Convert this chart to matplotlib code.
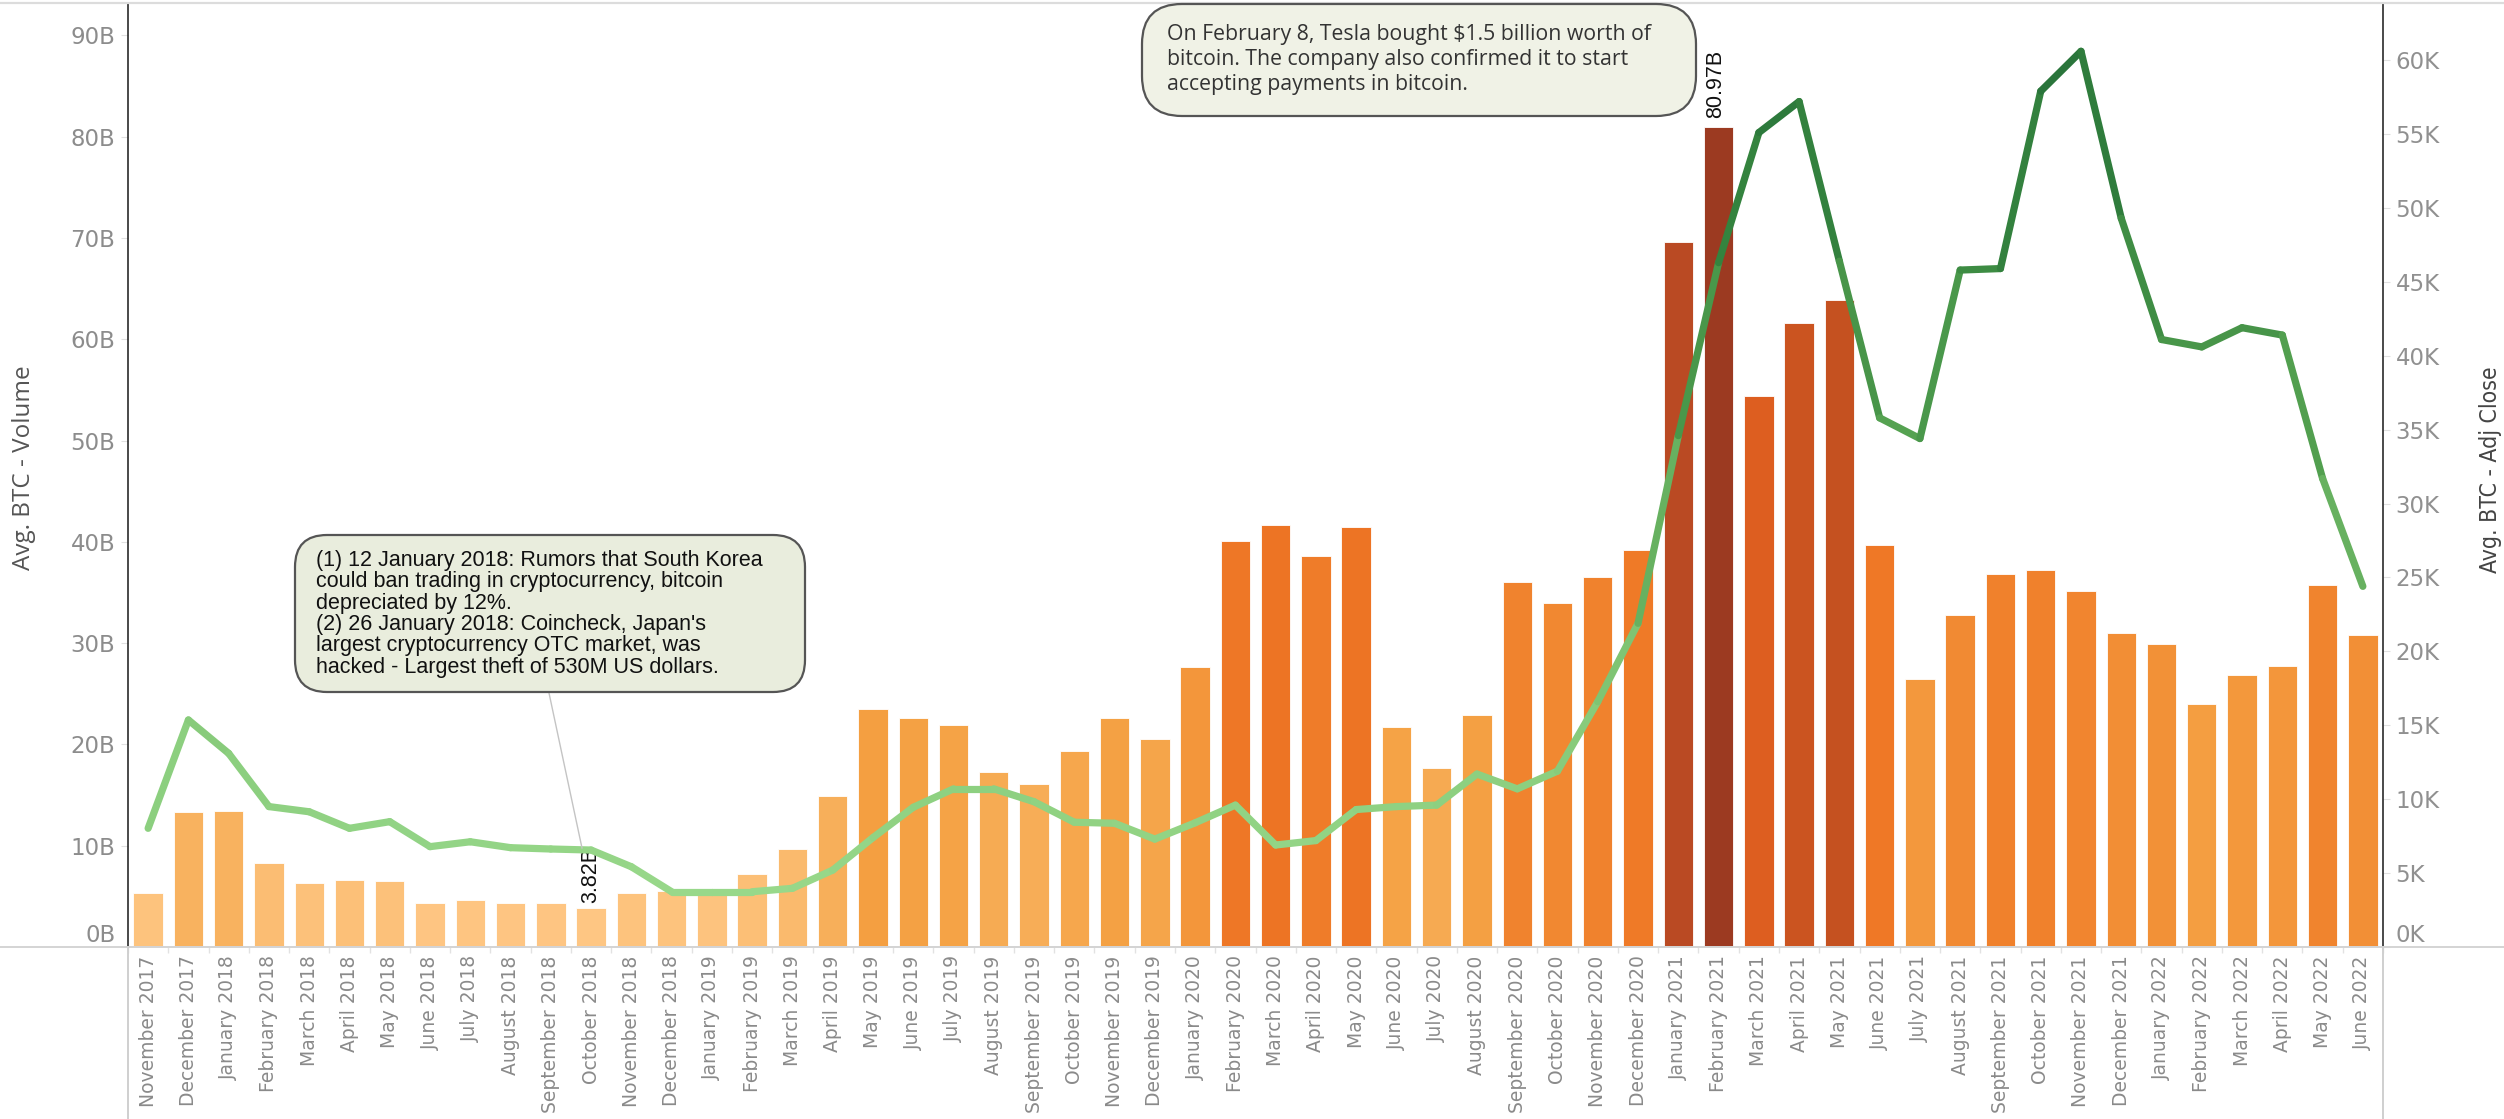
import numpy as np
import matplotlib
matplotlib.use("Agg")
import matplotlib.pyplot as plt
from matplotlib.collections import LineCollection
from matplotlib.colors import LinearSegmentedColormap, Normalize
from matplotlib.patches import FancyBboxPatch
from matplotlib.lines import Line2D
from matplotlib.transforms import IdentityTransform
import matplotlib.ticker as mticker

# ---------------- data ----------------
months = [
    "November 2017", "December 2017",
    "January 2018", "February 2018", "March 2018", "April 2018", "May 2018", "June 2018",
    "July 2018", "August 2018", "September 2018", "October 2018", "November 2018", "December 2018",
    "January 2019", "February 2019", "March 2019", "April 2019", "May 2019", "June 2019",
    "July 2019", "August 2019", "September 2019", "October 2019", "November 2019", "December 2019",
    "January 2020", "February 2020", "March 2020", "April 2020", "May 2020", "June 2020",
    "July 2020", "August 2020", "September 2020", "October 2020", "November 2020", "December 2020",
    "January 2021", "February 2021", "March 2021", "April 2021", "May 2021", "June 2021",
    "July 2021", "August 2021", "September 2021", "October 2021", "November 2021", "December 2021",
    "January 2022", "February 2022", "March 2022", "April 2022", "May 2022", "June 2022",
]

# Avg. BTC - Volume (billions)
volume_b = [
    5.36, 13.3,
    13.4, 8.26, 6.35, 6.6, 6.5, 4.37, 4.64, 4.37, 4.37, 3.82, 5.36, 5.5,
    5.3, 7.2, 9.7, 14.9, 23.5, 22.6, 21.9, 17.3, 16.1, 19.3, 22.6, 20.5,
    27.6, 40.1, 41.7, 38.6, 41.5, 21.7, 17.7, 22.9, 36.0, 34.0, 36.5, 39.2,
    69.6, 80.97, 54.4, 61.6, 63.9, 39.7, 26.5, 32.8, 36.8, 37.2, 35.1, 31.0,
    29.9, 24.0, 26.9, 27.7, 35.7, 30.8,
]

# Avg. BTC - Adj Close (thousands USD)
adj_close_k = [
    8.03, 15.36,
    13.1, 9.5, 9.15, 8.03, 8.48, 6.79, 7.12, 6.72, 6.63, 6.56, 5.43, 3.74,
    3.74, 3.74, 3.97, 5.2, 7.4, 9.45, 10.7, 10.7, 9.83, 8.44, 8.37, 7.3,
    8.4, 9.6, 6.9, 7.2, 9.3, 9.5, 9.6, 11.7, 10.7, 11.9, 16.6, 21.9,
    34.6, 46.3, 55.1, 57.2, 46.4, 35.8, 34.4, 45.8, 45.9, 57.9, 60.6, 49.3,
    41.1, 40.6, 41.9, 41.4, 31.7, 24.4,
]

volume_ticks_b = [0, 10, 20, 30, 40, 50, 60, 70, 80, 90]
close_ticks_k = [0, 5, 10, 15, 20, 25, 30, 35, 40, 45, 50, 55, 60]

note1_lines = [
    "(1) 12 January 2018: Rumors that South Korea",
    "could ban trading in cryptocurrency, bitcoin",
    "depreciated by 12%.",
    "(2) 26 January 2018: Coincheck, Japan's",
    "largest cryptocurrency OTC market, was",
    "hacked - Largest theft of 530M US dollars.",
]
note2_lines = [
    "On February 8, Tesla bought $1.5 billion worth of",
    "bitcoin. The company also confirmed it to start",
    "accepting payments in bitcoin.",
]

# ---------------- figure ----------------
W, H = 2504, 1119
fig = plt.figure(figsize=(W / 100, H / 100), dpi=100)
fig.patch.set_facecolor("white")

x0_px, x1_px, ybase_px, ytop_px = 128, 2383, 947, 4
ax = fig.add_axes([x0_px / W, (H - ybase_px) / H, (x1_px - x0_px) / W, (ybase_px - ytop_px) / H])
ax2 = ax.twinx()

n = len(months)
x = np.arange(n)
vol = np.array(volume_b) * 1e9
close = np.array(adj_close_k) * 1e3

bar_cmap = LinearSegmentedColormap.from_list("tab_orange", [
    (0.00, "#fec683"), (0.12, "#f8b25f"), (0.25, "#f4a042"), (0.43, "#f0812c"),
    (0.48, "#ee7524"), (0.65, "#de5e20"), (0.77, "#c75220"), (0.86, "#b94923"),
    (1.00, "#9c3a21")])
bnorm = Normalize(vmin=min(volume_b), vmax=max(volume_b))
bar_colors = [bar_cmap(bnorm(v)) for v in volume_b]
ax.bar(x, vol, width=0.73, color=bar_colors, edgecolor="#ffffff", linewidth=0.6, zorder=2)

line_cmap = LinearSegmentedColormap.from_list("tab_green", [
    (0.00, "#98d88a"), (0.25, "#82c776"), (0.55, "#55a251"), (0.80, "#36853f"), (1.00, "#28733a")])
lnorm = Normalize(vmin=min(adj_close_k), vmax=max(adj_close_k))
pts = np.column_stack([x, close])
segs = np.stack([pts[:-1], pts[1:]], axis=1)
seg_vals = (np.array(adj_close_k[:-1]) + np.array(adj_close_k[1:])) / 2
lc = LineCollection(segs, colors=[line_cmap(lnorm(v)) for v in seg_vals],
                    linewidths=5.2, capstyle="round", joinstyle="round", zorder=3)
ax2.add_collection(lc)

ax.set_xlim(-0.5, n - 0.5)
ax.set_ylim(0, 93.09e9)
ax2.set_ylim(0, 63.8e3)

# ticks
ax.set_xticks(x)
ax.set_xticklabels(months, rotation=90, fontsize=13.5, color="#8a8a8a")
ax.tick_params(axis="x", length=0, pad=6)
ax.set_xticks(np.arange(n + 1) - 0.5, minor=True)
ax.tick_params(axis="x", which="minor", length=4, color="#e2e2e2", width=1)

ax.set_yticks([t * 1e9 for t in volume_ticks_b])
ax.yaxis.set_major_formatter(mticker.FuncFormatter(lambda v, p: f"{v/1e9:.0f}B"))
ax.tick_params(axis="y", length=5, color="#e0e0e0", labelsize=16.5, labelcolor="#8c8c8c", pad=4)

ax2.set_yticks([t * 1e3 for t in close_ticks_k])
ax2.yaxis.set_major_formatter(mticker.FuncFormatter(lambda v, p: f"{v/1e3:.0f}K"))
ax2.tick_params(axis="y", length=5, color="#e0e0e0", labelsize=16.5, labelcolor="#909090", pad=4)

for a in (ax, ax2):
    a.spines["top"].set_visible(False)
    a.spines["bottom"].set_color("#d4d4d4")
    a.spines["bottom"].set_linewidth(1.4)
ax.spines["right"].set_visible(False)
ax2.spines["left"].set_visible(False)
ax.spines["left"].set_color("#2a2a2a")
ax.spines["left"].set_linewidth(1.2)
ax2.spines["right"].set_color("#2a2a2a")
ax2.spines["right"].set_linewidth(1.2)

# raise the zero labels like the reference
ax.yaxis.get_major_ticks()[0].label1.set_va("bottom")
ax2.yaxis.get_major_ticks()[0].label2.set_va("bottom")

# axis titles
fig.text(24 / W, 1 - 468 / H, "Avg. BTC - Volume", rotation=90, ha="center", va="center",
         fontsize=17.5, color="#555555", family="Open Sans")
fig.text(2490 / W, 1 - 470 / H, "Avg. BTC - Adj Close", rotation=90, ha="center", va="center",
         fontsize=16.5, color="#444444", family="DejaVu Sans", fontstretch="condensed")

# value labels
i_max = int(np.argmax(volume_b))
i_min = int(np.argmin(volume_b))
ax.annotate(f"{volume_b[i_max]:.2f}B", (x[i_max], vol[i_max]), xytext=(-2, 6),
            textcoords="offset points", rotation=90, ha="center", va="bottom",
            fontsize=15.5, family="Liberation Sans", color="#111111", zorder=5)
ax.annotate(f"{volume_b[i_min]:.2f}B", (x[i_min], vol[i_min]), xytext=(0, 4),
            textcoords="offset points", rotation=90, ha="center", va="bottom",
            fontsize=15.5, family="Liberation Sans", color="#111111", zorder=5)

# frame lines (Tableau-like)
ident = IdentityTransform()
fig.add_artist(Line2D([0, W], [H - 947, H - 947], transform=ident, color="#d4d4d4", lw=1.4))
fig.add_artist(Line2D([0, W], [H - 3, H - 3], transform=ident, color="#dcdcdc", lw=1.6))
fig.add_artist(Line2D([128, 128], [0, H - 947], transform=ident, color="#cfcfcf", lw=1.4))
fig.add_artist(Line2D([2383, 2383], [0, H - 947], transform=ident, color="#cfcfcf", lw=1.4))

# annotation 1
fig.add_artist(Line2D([549, 582], [H - 693, H - 848], transform=ident, color="#c4c4c4", lw=1.0))
box1 = FancyBboxPatch((295, H - 692), 805 - 295, 692 - 535,
                      boxstyle="round,pad=0,rounding_size=32", transform=ident,
                      facecolor="#e9eddd", edgecolor="#555555", linewidth=1.6, zorder=6)
fig.add_artist(box1)
for k, line in enumerate(note1_lines):
    yc = 559 + k * 21.3
    fig.text(316, H - (yc + 7), line, transform=ident, ha="left", va="baseline",
             fontsize=15.5, family="Liberation Sans", color="#111111", zorder=7)

# annotation 2
box2 = FancyBboxPatch((1142, H - 116), 1696 - 1142, 116 - 4,
                      boxstyle="round,pad=0,rounding_size=40", transform=ident,
                      facecolor="#f0f2e6", edgecolor="#555555", linewidth=1.6, zorder=6)
fig.add_artist(box2)
for k, line in enumerate(note2_lines):
    yc = 33 + k * 25
    fig.text(1167, H - (yc + 7), line, transform=ident, ha="left", va="baseline",
             fontsize=15.3, family="Open Sans", color="#333333", zorder=7)

fig.savefig("out.png", dpi=100, facecolor="white")
